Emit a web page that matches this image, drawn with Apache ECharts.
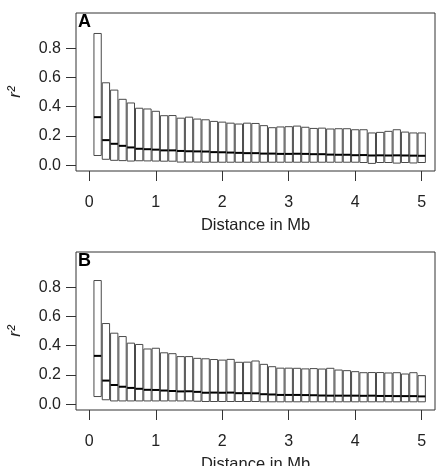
<!DOCTYPE html>
<html><head><meta charset="utf-8">
<script src="https://cdn.jsdelivr.net/npm/echarts@6/dist/echarts.min.js"></script>
<style>html,body{margin:0;padding:0;background:#fff}#c{width:444px;height:466px}</style>
</head><body><div id="c"></div>
<script>
const dist = [0.125,0.25,0.375,0.5,0.625,0.75,0.875,1.0,1.125,1.25,1.375,1.5,1.625,1.75,1.875,2.0,
  2.125,2.25,2.375,2.5,2.625,2.75,2.875,3.0,3.125,3.25,3.375,3.5,3.625,3.75,3.875,4.0,
  4.125,4.25,4.375,4.5,4.625,4.75,4.875,5.0];
const xTicks = [0,1,2,3,4,5];
const yTicks = [0,0.2,0.4,0.6,0.8];

const aQ3 = [0.90,0.563,0.513,0.45,0.425,0.389,0.384,0.368,0.338,0.339,0.321,0.328,0.315,0.31,0.299,0.294,
  0.287,0.281,0.287,0.285,0.27,0.256,0.261,0.263,0.267,0.259,0.251,0.253,0.247,0.249,0.249,0.242,
  0.242,0.22,0.224,0.231,0.242,0.226,0.22,0.22];
const aMed = [0.328,0.171,0.146,0.132,0.121,0.112,0.109,0.106,0.101,0.101,0.097,0.095,0.094,0.093,0.089,0.088,
  0.086,0.084,0.082,0.082,0.079,0.079,0.077,0.077,0.078,0.077,0.075,0.075,0.072,0.071,0.071,0.068,
  0.069,0.066,0.067,0.066,0.067,0.066,0.065,0.064];
const aQ1 = [0.066,0.04,0.033,0.031,0.028,0.03,0.029,0.028,0.027,0.027,0.021,0.021,0.021,0.02,0.02,0.02,
  0.02,0.02,0.02,0.02,0.02,0.02,0.02,0.02,0.02,0.02,0.02,0.02,0.02,0.02,0.02,0.02,
  0.018,0.012,0.018,0.018,0.014,0.018,0.015,0.018];

const bQ3 = [0.845,0.551,0.485,0.462,0.417,0.408,0.377,0.382,0.351,0.345,0.325,0.325,0.313,0.31,0.305,0.301,
  0.306,0.286,0.287,0.295,0.272,0.256,0.246,0.246,0.245,0.241,0.243,0.24,0.245,0.233,0.229,0.222,
  0.215,0.216,0.216,0.213,0.215,0.206,0.215,0.195];
const bMed = [0.33,0.161,0.131,0.119,0.111,0.105,0.098,0.097,0.093,0.09,0.087,0.088,0.084,0.078,0.079,0.078,
  0.079,0.075,0.075,0.074,0.068,0.066,0.063,0.063,0.063,0.062,0.061,0.059,0.058,0.058,0.058,0.058,
  0.057,0.058,0.056,0.056,0.055,0.055,0.055,0.053];
const bQ1 = [0.052,0.03,0.022,0.022,0.022,0.022,0.022,0.022,0.022,0.022,0.022,0.022,0.02,0.018,0.018,0.018,
  0.018,0.018,0.018,0.018,0.016,0.016,0.016,0.016,0.016,0.016,0.016,0.016,0.016,0.016,0.016,0.016,
  0.016,0.016,0.016,0.016,0.016,0.016,0.016,0.016];

const FONT = 'Liberation Sans';
const TXT = '#222';

function xAxis(gi){
  return {type:'value', gridIndex:gi, min:-0.2, max:5.2,
    axisLine:{show:false, onZero:false}, splitLine:{show:false},
    axisTick:{show:true, length:10, inside:false, customValues:xTicks, lineStyle:{color:'#333',width:1}},
    axisLabel:{customValues:xTicks, margin:24, fontSize:16, fontFamily:FONT, color:TXT},
    name:'Distance in Mb', nameLocation:'middle', nameGap:46,
    nameTextStyle:{fontSize:16.5, fontFamily:FONT, color:TXT}};
}
function yAxis(gi){
  return {type:'value', gridIndex:gi, min:-0.04, max:1.04,
    axisLine:{show:false, onZero:false}, splitLine:{show:false},
    axisTick:{show:true, length:10, inside:false, customValues:yTicks, lineStyle:{color:'#333',width:1}},
    axisLabel:{customValues:yTicks, margin:15, fontSize:16, fontFamily:FONT, color:TXT,
      formatter:v=>v.toFixed(1)},
    name:'r²', nameLocation:'middle', nameGap:52, nameRotate:90,
    nameTextStyle:{fontSize:17, fontFamily:FONT, color:TXT, fontStyle:'italic'}};
}
function renderBox(params, api){
  const x = api.value(0), q1 = api.value(1), med = api.value(2), q3 = api.value(3);
  const hw = 0.055;
  const p1 = api.coord([x-hw, q3]);
  const p2 = api.coord([x+hw, q1]);
  const m1 = api.coord([x-hw, med]);
  const m2 = api.coord([x+hw, med]);
  return {type:'group', children:[
    {type:'rect', shape:{x:p1[0], y:p1[1], width:p2[0]-p1[0], height:p2[1]-p1[1]},
      style:{fill:'#fff', stroke:'#4a4a4a', lineWidth:1}},
    {type:'line', shape:{x1:m1[0], y1:m1[1], x2:m2[0], y2:m2[1]},
      style:{stroke:'#000', lineWidth:2}}
  ]};
}
function series(gi, q1, med, q3){
  return {type:'custom', xAxisIndex:gi, yAxisIndex:gi, renderItem:renderBox,
    encode:{x:0, y:[1,2,3]}, animation:false,
    data: dist.map((d,i)=>[d, q1[i], med[i], q3[i]])};
}

const chart = echarts.init(document.getElementById('c'), null, {renderer:'canvas'});
chart.setOption({
  animation:false,
  backgroundColor:'#fff',
  grid:[
    {left:76, right:9, top:13, height:158, show:true, borderColor:'#333', borderWidth:1, backgroundColor:'transparent', containLabel:false, outerBoundsMode:'none'},
    {left:76, right:9, top:252, height:158, show:true, borderColor:'#333', borderWidth:1, backgroundColor:'transparent', containLabel:false, outerBoundsMode:'none'}
  ],
  xAxis:[xAxis(0), xAxis(1)],
  yAxis:[yAxis(0), yAxis(1)],
  series:[series(0, aQ1, aMed, aQ3), series(1, bQ1, bMed, bQ3)],
  graphic:[
    {type:'text', left:78, top:13, style:{text:'A', fontSize:18, fontWeight:'bold', fontFamily:FONT, fill:'#000'}},
    {type:'text', left:78, top:252, style:{text:'B', fontSize:18, fontWeight:'bold', fontFamily:FONT, fill:'#000'}}
  ]
});
</script></body></html>
